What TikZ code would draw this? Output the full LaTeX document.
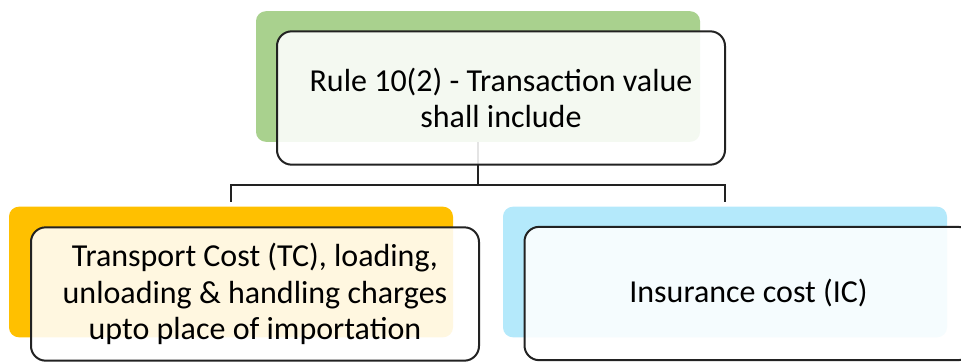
\documentclass[tikz,border=0pt]{standalone}
\usepackage{fontspec}
\setmainfont{Carlito}
\definecolor{cgreen}{HTML}{A9D18E}
\definecolor{corange}{HTML}{FFC000}
\definecolor{cblue}{HTML}{B4E9FB}
\definecolor{cline}{HTML}{222222}
\begin{document}
\begin{tikzpicture}[x=0.75pt,y=-0.75pt,
  backbox/.style={draw=none, rounded corners=7.5pt, minimum width=333pt, minimum height=98pt, inner sep=0pt},
  frontbox/.style={draw=cline, line width=1.5pt, fill=white, fill opacity=0.88, text opacity=1, rounded corners=11pt,
    minimum width=336pt, minimum height=100pt, inner sep=0pt, align=center, text=black,
    font=\fontsize{24}{27.5}\selectfont},
  conn/.style={draw=cline, line width=1.5pt}]
\useasboundingbox (0,0) rectangle (961,361);
\clip (0,0) rectangle (961,361);
\node[backbox, fill=cgreen] (g) at (478,76.5) {};
\node[backbox, fill=corange] (o) at (231,272) {};
\node[backbox, fill=cblue] (b) at (725,272) {};
\coordinate (j) at (478,185);
\draw[conn] (g.south) -- (j);
\draw[conn, shorten >=3pt] (j) -| (o.north);
\draw[conn, shorten >=3pt] (j) -| (b.north);
\node[frontbox] (gt) at (501,98) {Rule 10(2) - Transaction value\\shall include};
\node[frontbox] (ot) at (255,294) {Transport Cost (TC), loading,\\unloading \& handling charges\\upto place of importation};
\node[frontbox] (bt) at (748.5,293.5) {Insurance cost (IC)};
\end{tikzpicture}
\end{document}
